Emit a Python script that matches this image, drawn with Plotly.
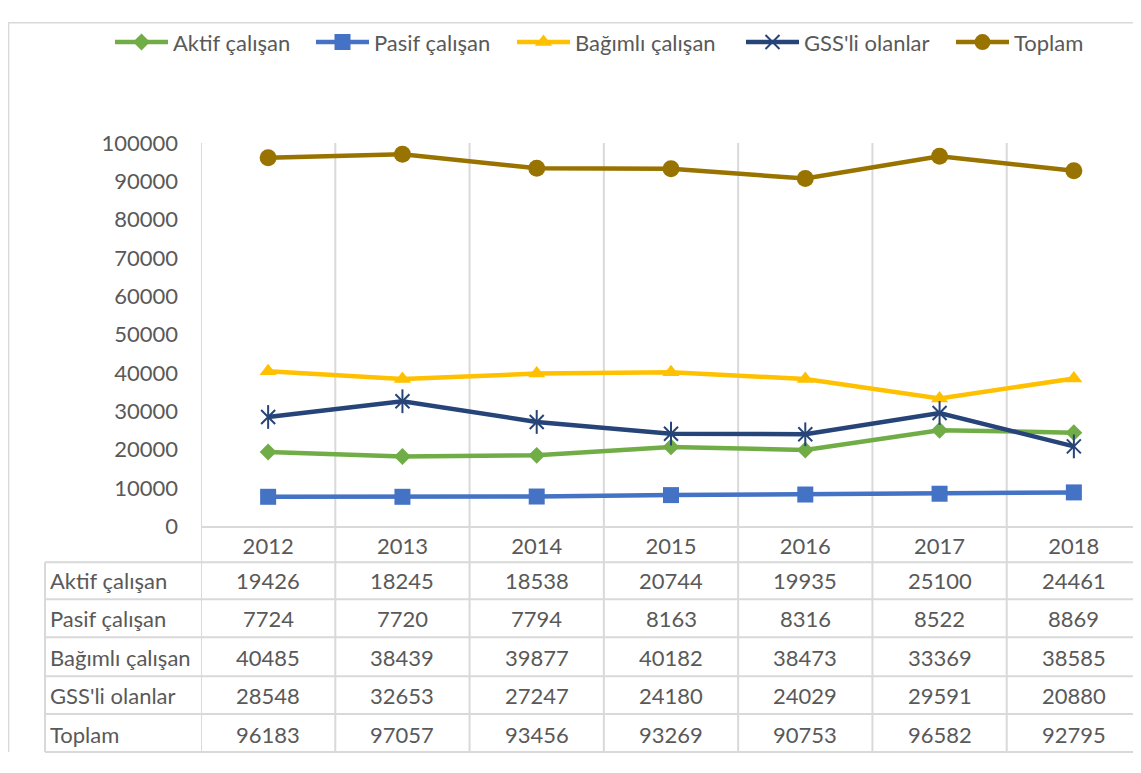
import plotly.graph_objects as go

years = ["2012", "2013", "2014", "2015", "2016", "2017", "2018"]
aktif = [19426, 18245, 18538, 20744, 19935, 25100, 24461]
pasif = [7724, 7720, 7794, 8163, 8316, 8522, 8869]
bagimli = [40485, 38439, 39877, 40182, 38473, 33369, 38585]
gss = [28548, 32653, 27247, 24180, 24029, 29591, 20880]
toplam = [96183, 97057, 93456, 93269, 90753, 96582, 92795]

series_names = ["Aktif çalışan", "Pasif çalışan", "Bağımlı çalışan", "GSS'li olanlar", "Toplam"]
series_values = [aktif, pasif, bagimli, gss, toplam]
colors = ["#70AD47", "#4472C4", "#FFC000", "#264478", "#997300"]
symbols = ["diamond", "square", "triangle-up", "x-thin-open", "circle"]
sizes = [13, 16, 15, 14, 17]
legend_starts = [117, 318, 519, 748, 958]  # pixel x of each legend entry

OFF = 8  # default page margin
W, H = 1141 - OFF, 773 - 2 * OFF
FONT = "Lato"
FS = 22
GRAY = "#595959"
GRID = "#d9d9d9"


def py(r):
    page = (r - 14) / 0.966
    return 1 - (page - OFF) / H


def px(r):
    return (r - OFF) / W


fig = go.Figure()
legend_layouts = {}
for k, (name, vals, col, sym, sz) in enumerate(zip(series_names, series_values, colors, symbols, sizes)):
    lg = "legend" if k == 0 else f"legend{k + 1}"
    legend_layouts[lg] = dict(orientation="h", x=px(legend_starts[k] - 7), y=py(42),
                              xanchor="left", yanchor="middle", itemwidth=53,
                              font=dict(family=FONT, size=FS, color=GRAY),
                              bgcolor="rgba(0,0,0,0)")
    if sym == "x-thin-open":
        marker = dict(symbol=sym, size=sz, color=col, line=dict(color=col, width=2))
    else:
        marker = dict(symbol=sym, size=sz, color=col, line=dict(width=0))
    fig.add_trace(go.Scatter(x=years, y=vals, name=name, mode="lines+markers", legend=lg,
                             line=dict(color=col, width=4.5), marker=marker))
    if sym == "x-thin-open":
        fig.add_trace(go.Scatter(x=years, y=vals, mode="markers", showlegend=False,
                                 hoverinfo="skip",
                                 marker=dict(symbol="line-ns-open", size=sz + 3, color=col,
                                             line=dict(color=col, width=2))))

shapes = []
for i in range(len(years) + 1):
    shapes.append(dict(type="line", xref="x", yref="paper", x0=i - 0.5, x1=i - 0.5,
                       y0=py(753), y1=py(143), line=dict(color=GRID, width=2), layer="below"))
for yy in [563, 600, 638, 677, 715, 753]:
    shapes.append(dict(type="line", xref="paper", yref="paper", x0=px(45), x1=1,
                       y0=py(yy), y1=py(yy), line=dict(color=GRID, width=2), layer="below"))
shapes.append(dict(type="line", xref="paper", yref="paper", x0=px(45), x1=px(45),
                   y0=py(753), y1=py(563), line=dict(color=GRID, width=2)))
shapes.append(dict(type="line", xref="paper", yref="paper", x0=0.0005, x1=0.0005,
                   y0=0, y1=1, line=dict(color=GRID, width=1.5)))
shapes.append(dict(type="line", xref="paper", yref="paper", x0=0, x1=1,
                   y0=0.999, y1=0.999, line=dict(color=GRID, width=1.5)))

annotations = []
row_centers = [581, 619, 658, 696, 735]
for name, vals, yc in zip(series_names, series_values, row_centers):
    annotations.append(dict(text=name, xref="paper", yref="paper", x=px(48), y=py(yc),
                            xanchor="left", yanchor="middle", showarrow=False,
                            font=dict(family=FONT, size=FS, color=GRAY)))
    for i, v in enumerate(vals):
        annotations.append(dict(text=str(v), xref="x", yref="paper", x=i, y=py(yc),
                                xanchor="center", yanchor="middle", showarrow=False,
                                font=dict(family=FONT, size=FS, color=GRAY)))

fig.update_layout(
    width=W, height=H,
    margin=dict(l=0, r=0, t=0, b=0),
    paper_bgcolor="white", plot_bgcolor="white",
    font=dict(family=FONT, size=FS, color=GRAY),
    showlegend=True,
    xaxis=dict(domain=[px(201), 1], range=[-0.5, 6.5], type="category",
               showgrid=False, zeroline=False, showline=True, linecolor=GRID, linewidth=2,
               ticks="", ticklabelstandoff=-1,
               tickfont=dict(family=FONT, size=FS, color=GRAY)),
    yaxis=dict(domain=[py(527), py(143)], range=[0, 100000], dtick=10000,
               tickformat="d", showgrid=False, zeroline=False, showline=False,
               ticks="", ticklabelstandoff=22,
               tickfont=dict(family=FONT, size=FS, color=GRAY)),
    shapes=shapes,
    annotations=annotations,
    **legend_layouts,
)

fig.write_html("out.html")
